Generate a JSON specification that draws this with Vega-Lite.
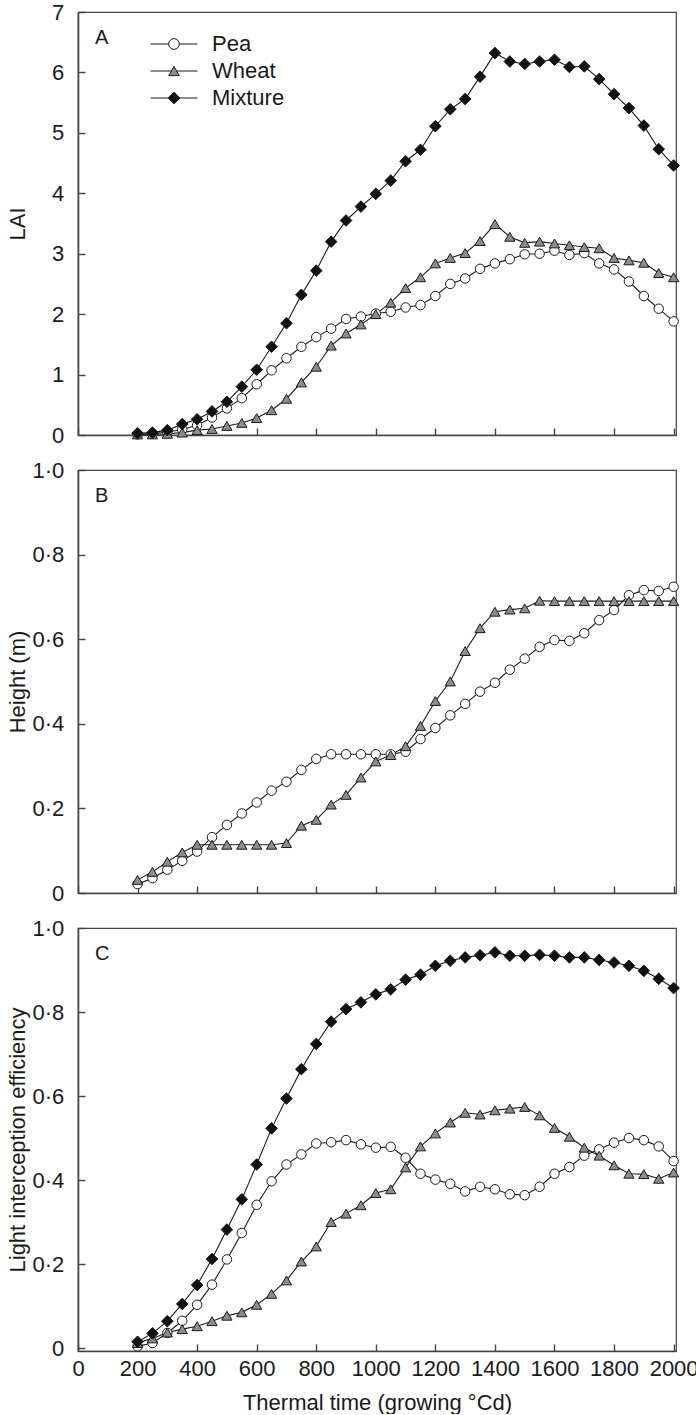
{
"$schema": "https://vega.github.io/schema/vega-lite/v6.json",
"padding": {"left": 5, "top": 0, "right": 0, "bottom": 0},
"background": "white",
"spacing": 11,
"datasets": {
"A": [
{"series":"Pea","time":200,"value":0.01},{"series":"Pea","time":250,"value":0.02},{"series":"Pea","time":300,"value":0.05},{"series":"Pea","time":350,"value":0.09},{"series":"Pea","time":400,"value":0.16},{"series":"Pea","time":450,"value":0.29},{"series":"Pea","time":500,"value":0.44},{"series":"Pea","time":550,"value":0.61},{"series":"Pea","time":600,"value":0.84},{"series":"Pea","time":650,"value":1.07},{"series":"Pea","time":700,"value":1.27},{"series":"Pea","time":750,"value":1.46},{"series":"Pea","time":800,"value":1.62},{"series":"Pea","time":850,"value":1.76},{"series":"Pea","time":900,"value":1.92},{"series":"Pea","time":950,"value":1.96},{"series":"Pea","time":1000,"value":2.01},{"series":"Pea","time":1050,"value":2.04},{"series":"Pea","time":1100,"value":2.11},{"series":"Pea","time":1150,"value":2.15},{"series":"Pea","time":1200,"value":2.30},{"series":"Pea","time":1250,"value":2.50},{"series":"Pea","time":1300,"value":2.59},{"series":"Pea","time":1350,"value":2.75},{"series":"Pea","time":1400,"value":2.84},{"series":"Pea","time":1450,"value":2.91},{"series":"Pea","time":1500,"value":2.99},{"series":"Pea","time":1550,"value":3.00},{"series":"Pea","time":1600,"value":3.05},{"series":"Pea","time":1650,"value":2.98},{"series":"Pea","time":1700,"value":3.01},{"series":"Pea","time":1750,"value":2.84},{"series":"Pea","time":1800,"value":2.74},{"series":"Pea","time":1850,"value":2.54},{"series":"Pea","time":1900,"value":2.30},{"series":"Pea","time":1950,"value":2.09},{"series":"Pea","time":2000,"value":1.88},
{"series":"Wheat","time":200,"value":0.01},{"series":"Wheat","time":250,"value":0.01},{"series":"Wheat","time":300,"value":0.02},{"series":"Wheat","time":350,"value":0.04},{"series":"Wheat","time":400,"value":0.08},{"series":"Wheat","time":450,"value":0.10},{"series":"Wheat","time":500,"value":0.15},{"series":"Wheat","time":550,"value":0.20},{"series":"Wheat","time":600,"value":0.28},{"series":"Wheat","time":650,"value":0.41},{"series":"Wheat","time":700,"value":0.60},{"series":"Wheat","time":750,"value":0.87},{"series":"Wheat","time":800,"value":1.13},{"series":"Wheat","time":850,"value":1.48},{"series":"Wheat","time":900,"value":1.68},{"series":"Wheat","time":950,"value":1.83},{"series":"Wheat","time":1000,"value":2.00},{"series":"Wheat","time":1050,"value":2.19},{"series":"Wheat","time":1100,"value":2.43},{"series":"Wheat","time":1150,"value":2.61},{"series":"Wheat","time":1200,"value":2.84},{"series":"Wheat","time":1250,"value":2.93},{"series":"Wheat","time":1300,"value":3.01},{"series":"Wheat","time":1350,"value":3.21},{"series":"Wheat","time":1400,"value":3.49},{"series":"Wheat","time":1450,"value":3.28},{"series":"Wheat","time":1500,"value":3.18},{"series":"Wheat","time":1550,"value":3.20},{"series":"Wheat","time":1600,"value":3.17},{"series":"Wheat","time":1650,"value":3.14},{"series":"Wheat","time":1700,"value":3.11},{"series":"Wheat","time":1750,"value":3.09},{"series":"Wheat","time":1800,"value":2.93},{"series":"Wheat","time":1850,"value":2.89},{"series":"Wheat","time":1900,"value":2.85},{"series":"Wheat","time":1950,"value":2.68},{"series":"Wheat","time":2000,"value":2.61},
{"series":"Mixture","time":200,"value":0.03},{"series":"Mixture","time":250,"value":0.04},{"series":"Mixture","time":300,"value":0.08},{"series":"Mixture","time":350,"value":0.18},{"series":"Mixture","time":400,"value":0.26},{"series":"Mixture","time":450,"value":0.39},{"series":"Mixture","time":500,"value":0.55},{"series":"Mixture","time":550,"value":0.80},{"series":"Mixture","time":600,"value":1.08},{"series":"Mixture","time":650,"value":1.46},{"series":"Mixture","time":700,"value":1.85},{"series":"Mixture","time":750,"value":2.32},{"series":"Mixture","time":800,"value":2.72},{"series":"Mixture","time":850,"value":3.20},{"series":"Mixture","time":900,"value":3.55},{"series":"Mixture","time":950,"value":3.78},{"series":"Mixture","time":1000,"value":3.99},{"series":"Mixture","time":1050,"value":4.21},{"series":"Mixture","time":1100,"value":4.53},{"series":"Mixture","time":1150,"value":4.72},{"series":"Mixture","time":1200,"value":5.11},{"series":"Mixture","time":1250,"value":5.39},{"series":"Mixture","time":1300,"value":5.56},{"series":"Mixture","time":1350,"value":5.93},{"series":"Mixture","time":1400,"value":6.32},{"series":"Mixture","time":1450,"value":6.18},{"series":"Mixture","time":1500,"value":6.14},{"series":"Mixture","time":1550,"value":6.18},{"series":"Mixture","time":1600,"value":6.21},{"series":"Mixture","time":1650,"value":6.09},{"series":"Mixture","time":1700,"value":6.10},{"series":"Mixture","time":1750,"value":5.89},{"series":"Mixture","time":1800,"value":5.64},{"series":"Mixture","time":1850,"value":5.41},{"series":"Mixture","time":1900,"value":5.12},{"series":"Mixture","time":1950,"value":4.73},{"series":"Mixture","time":2000,"value":4.46}
],
"B": [
{"series":"Pea","time":200,"value":0.021},{"series":"Pea","time":250,"value":0.035},{"series":"Pea","time":300,"value":0.055},{"series":"Pea","time":350,"value":0.076},{"series":"Pea","time":400,"value":0.098},{"series":"Pea","time":450,"value":0.132},{"series":"Pea","time":500,"value":0.161},{"series":"Pea","time":550,"value":0.188},{"series":"Pea","time":600,"value":0.214},{"series":"Pea","time":650,"value":0.242},{"series":"Pea","time":700,"value":0.263},{"series":"Pea","time":750,"value":0.291},{"series":"Pea","time":800,"value":0.317},{"series":"Pea","time":850,"value":0.328},{"series":"Pea","time":900,"value":0.328},{"series":"Pea","time":950,"value":0.328},{"series":"Pea","time":1000,"value":0.328},{"series":"Pea","time":1050,"value":0.328},{"series":"Pea","time":1100,"value":0.334},{"series":"Pea","time":1150,"value":0.364},{"series":"Pea","time":1200,"value":0.390},{"series":"Pea","time":1250,"value":0.420},{"series":"Pea","time":1300,"value":0.447},{"series":"Pea","time":1350,"value":0.476},{"series":"Pea","time":1400,"value":0.497},{"series":"Pea","time":1450,"value":0.528},{"series":"Pea","time":1500,"value":0.554},{"series":"Pea","time":1550,"value":0.582},{"series":"Pea","time":1600,"value":0.598},{"series":"Pea","time":1650,"value":0.596},{"series":"Pea","time":1700,"value":0.614},{"series":"Pea","time":1750,"value":0.645},{"series":"Pea","time":1800,"value":0.669},{"series":"Pea","time":1850,"value":0.704},{"series":"Pea","time":1900,"value":0.716},{"series":"Pea","time":1950,"value":0.714},{"series":"Pea","time":2000,"value":0.724},
{"series":"Wheat","time":200,"value":0.031},{"series":"Wheat","time":250,"value":0.050},{"series":"Wheat","time":300,"value":0.074},{"series":"Wheat","time":350,"value":0.096},{"series":"Wheat","time":400,"value":0.114},{"series":"Wheat","time":450,"value":0.114},{"series":"Wheat","time":500,"value":0.114},{"series":"Wheat","time":550,"value":0.114},{"series":"Wheat","time":600,"value":0.114},{"series":"Wheat","time":650,"value":0.114},{"series":"Wheat","time":700,"value":0.118},{"series":"Wheat","time":750,"value":0.159},{"series":"Wheat","time":800,"value":0.173},{"series":"Wheat","time":850,"value":0.209},{"series":"Wheat","time":900,"value":0.232},{"series":"Wheat","time":950,"value":0.273},{"series":"Wheat","time":1000,"value":0.311},{"series":"Wheat","time":1050,"value":0.326},{"series":"Wheat","time":1100,"value":0.347},{"series":"Wheat","time":1150,"value":0.395},{"series":"Wheat","time":1200,"value":0.454},{"series":"Wheat","time":1250,"value":0.500},{"series":"Wheat","time":1300,"value":0.572},{"series":"Wheat","time":1350,"value":0.626},{"series":"Wheat","time":1400,"value":0.665},{"series":"Wheat","time":1450,"value":0.670},{"series":"Wheat","time":1500,"value":0.673},{"series":"Wheat","time":1550,"value":0.691},{"series":"Wheat","time":1600,"value":0.690},{"series":"Wheat","time":1650,"value":0.690},{"series":"Wheat","time":1700,"value":0.690},{"series":"Wheat","time":1750,"value":0.690},{"series":"Wheat","time":1800,"value":0.690},{"series":"Wheat","time":1850,"value":0.690},{"series":"Wheat","time":1900,"value":0.690},{"series":"Wheat","time":1950,"value":0.690},{"series":"Wheat","time":2000,"value":0.690}
],
"C": [
{"series":"Pea","time":200,"value":0.004},{"series":"Pea","time":250,"value":0.012},{"series":"Pea","time":300,"value":0.036},{"series":"Pea","time":350,"value":0.065},{"series":"Pea","time":400,"value":0.103},{"series":"Pea","time":450,"value":0.151},{"series":"Pea","time":500,"value":0.211},{"series":"Pea","time":550,"value":0.274},{"series":"Pea","time":600,"value":0.341},{"series":"Pea","time":650,"value":0.397},{"series":"Pea","time":700,"value":0.437},{"series":"Pea","time":750,"value":0.461},{"series":"Pea","time":800,"value":0.487},{"series":"Pea","time":850,"value":0.490},{"series":"Pea","time":900,"value":0.495},{"series":"Pea","time":950,"value":0.485},{"series":"Pea","time":1000,"value":0.477},{"series":"Pea","time":1050,"value":0.479},{"series":"Pea","time":1100,"value":0.453},{"series":"Pea","time":1150,"value":0.415},{"series":"Pea","time":1200,"value":0.401},{"series":"Pea","time":1250,"value":0.391},{"series":"Pea","time":1300,"value":0.373},{"series":"Pea","time":1350,"value":0.384},{"series":"Pea","time":1400,"value":0.378},{"series":"Pea","time":1450,"value":0.366},{"series":"Pea","time":1500,"value":0.364},{"series":"Pea","time":1550,"value":0.384},{"series":"Pea","time":1600,"value":0.415},{"series":"Pea","time":1650,"value":0.431},{"series":"Pea","time":1700,"value":0.458},{"series":"Pea","time":1750,"value":0.473},{"series":"Pea","time":1800,"value":0.489},{"series":"Pea","time":1850,"value":0.500},{"series":"Pea","time":1900,"value":0.495},{"series":"Pea","time":1950,"value":0.480},{"series":"Pea","time":2000,"value":0.445},
{"series":"Wheat","time":200,"value":0.012},{"series":"Wheat","time":250,"value":0.023},{"series":"Wheat","time":300,"value":0.037},{"series":"Wheat","time":350,"value":0.045},{"series":"Wheat","time":400,"value":0.052},{"series":"Wheat","time":450,"value":0.064},{"series":"Wheat","time":500,"value":0.077},{"series":"Wheat","time":550,"value":0.085},{"series":"Wheat","time":600,"value":0.103},{"series":"Wheat","time":650,"value":0.129},{"series":"Wheat","time":700,"value":0.161},{"series":"Wheat","time":750,"value":0.206},{"series":"Wheat","time":800,"value":0.242},{"series":"Wheat","time":850,"value":0.300},{"series":"Wheat","time":900,"value":0.320},{"series":"Wheat","time":950,"value":0.340},{"series":"Wheat","time":1000,"value":0.369},{"series":"Wheat","time":1050,"value":0.378},{"series":"Wheat","time":1100,"value":0.430},{"series":"Wheat","time":1150,"value":0.480},{"series":"Wheat","time":1200,"value":0.511},{"series":"Wheat","time":1250,"value":0.537},{"series":"Wheat","time":1300,"value":0.560},{"series":"Wheat","time":1350,"value":0.556},{"series":"Wheat","time":1400,"value":0.566},{"series":"Wheat","time":1450,"value":0.570},{"series":"Wheat","time":1500,"value":0.574},{"series":"Wheat","time":1550,"value":0.554},{"series":"Wheat","time":1600,"value":0.524},{"series":"Wheat","time":1650,"value":0.503},{"series":"Wheat","time":1700,"value":0.477},{"series":"Wheat","time":1750,"value":0.458},{"series":"Wheat","time":1800,"value":0.435},{"series":"Wheat","time":1850,"value":0.415},{"series":"Wheat","time":1900,"value":0.414},{"series":"Wheat","time":1950,"value":0.403},{"series":"Wheat","time":2000,"value":0.418},
{"series":"Mixture","time":200,"value":0.015},{"series":"Mixture","time":250,"value":0.035},{"series":"Mixture","time":300,"value":0.064},{"series":"Mixture","time":350,"value":0.105},{"series":"Mixture","time":400,"value":0.150},{"series":"Mixture","time":450,"value":0.212},{"series":"Mixture","time":500,"value":0.282},{"series":"Mixture","time":550,"value":0.354},{"series":"Mixture","time":600,"value":0.437},{"series":"Mixture","time":650,"value":0.523},{"series":"Mixture","time":700,"value":0.594},{"series":"Mixture","time":750,"value":0.664},{"series":"Mixture","time":800,"value":0.724},{"series":"Mixture","time":850,"value":0.777},{"series":"Mixture","time":900,"value":0.807},{"series":"Mixture","time":950,"value":0.823},{"series":"Mixture","time":1000,"value":0.842},{"series":"Mixture","time":1050,"value":0.854},{"series":"Mixture","time":1100,"value":0.877},{"series":"Mixture","time":1150,"value":0.889},{"series":"Mixture","time":1200,"value":0.910},{"series":"Mixture","time":1250,"value":0.922},{"series":"Mixture","time":1300,"value":0.930},{"series":"Mixture","time":1350,"value":0.935},{"series":"Mixture","time":1400,"value":0.942},{"series":"Mixture","time":1450,"value":0.934},{"series":"Mixture","time":1500,"value":0.934},{"series":"Mixture","time":1550,"value":0.936},{"series":"Mixture","time":1600,"value":0.934},{"series":"Mixture","time":1650,"value":0.930},{"series":"Mixture","time":1700,"value":0.930},{"series":"Mixture","time":1750,"value":0.924},{"series":"Mixture","time":1800,"value":0.918},{"series":"Mixture","time":1850,"value":0.910},{"series":"Mixture","time":1900,"value":0.898},{"series":"Mixture","time":1950,"value":0.879},{"series":"Mixture","time":2000,"value":0.857}
]
},
"vconcat": [
{
"width": 598, "height": 423,
"data": {"name": "A"},
"title": {"text": "A", "anchor": "start", "frame": "group", "orient": "top", "offset": -63, "baseline": "alphabetic", "dx": 17},
"layer": [
{"mark": {"type": "point", "filled": true, "stroke": "#1a1a1a", "strokeWidth": 1, "opacity": 0, "size": 114},
 "encoding": {
  "x": {"field": "time", "type": "quantitative", "scale": {"domain": [0, 2008], "nice": false}, "axis": {"values": [0,200,400,600,800,1000,1200,1400,1600,1800,2000], "labels": false, "title": null}},
  "y": {"field": "value", "type": "quantitative", "scale": {"domain": [0, 7], "nice": false}, "axis": {"values": [0,1,2,3,4,5,6,7], "format": "d", "title": "LAI"}},
  "shape": {"field": "series", "type": "nominal", "scale": {"domain": ["Pea","Wheat","Mixture"], "range": ["M-4.4,0H-1M1,0H4.4M-1,0A1,1 0 1,1 1,0A1,1 0 1,1 -1,0Z", "M-4.4,0H-0.5M0.5,0H4.4M0,-0.87L1,0.87L-1,0.87Z", "M-4.4,0H-1.1M1.1,0H4.4M-1.1,0L0,-1.1L1.1,0L0,1.1Z"]},
   "legend": {"orient": "none", "legendX": 85, "legendY": 21, "title": null, "symbolSize": 114, "symbolOpacity": 1, "symbolStrokeWidth": 1, "labelOffset": 27, "rowPadding": 5}},
  "fill": {"field": "series", "type": "nominal", "scale": {"domain": ["Pea","Wheat","Mixture"], "range": ["#ffffff","#8c8c8c","#111111"]},
   "legend": {"orient": "none", "legendX": 85, "legendY": 21, "title": null, "symbolSize": 114, "symbolOpacity": 1, "symbolStrokeWidth": 1, "labelOffset": 27, "rowPadding": 5}}}},
{"mark": {"type": "line", "color": "#1a1a1a", "strokeWidth": 1.1},
 "encoding": {
  "x": {"field": "time", "type": "quantitative"},
  "y": {"field": "value", "type": "quantitative"},
  "detail": {"field": "series"}}},
{"mark": {"type": "point", "filled": true, "stroke": "#1a1a1a", "strokeWidth": 1, "opacity": 1},
 "encoding": {
  "x": {"field": "time", "type": "quantitative"},
  "y": {"field": "value", "type": "quantitative"},
  "shape": {"field": "series", "type": "nominal", "scale": {"domain": ["Pea","Wheat","Mixture"], "range": ["circle","triangle-up","diamond"]}, "legend": null},
  "fill": {"field": "series", "type": "nominal", "scale": {"domain": ["Pea","Wheat","Mixture"], "range": ["#ffffff","#8c8c8c","#111111"]}, "legend": null},
  "size": {"field": "series", "type": "nominal", "scale": {"type": "ordinal", "domain": ["Pea","Wheat","Mixture"], "range": [90,105,135]}, "legend": null}}}
],
"resolve": {"scale": {"shape": "independent", "fill": "independent"}, "legend": {"shape": "independent", "fill": "independent"}}
},
{
"width": 598, "height": 423,
"data": {"name": "B"},
"title": {"text": "B", "anchor": "start", "frame": "group", "orient": "top", "offset": -63, "baseline": "alphabetic", "dx": 17},
"layer": [
{"mark": {"type": "line", "color": "#1a1a1a", "strokeWidth": 1.1},
 "encoding": {
  "x": {"field": "time", "type": "quantitative", "scale": {"domain": [0, 2008], "nice": false}, "axis": {"values": [0,200,400,600,800,1000,1200,1400,1600,1800,2000], "labels": false, "title": null}},
  "y": {"field": "value", "type": "quantitative", "scale": {"domain": [0, 1], "nice": false}, "axis": {"values": [0,0.2,0.4,0.6,0.8,1], "title": "Height (m)", "labelExpr": "datum.value == 0 ? '0' : replace(format(datum.value, '.1f'), '.', '·')"}},
  "detail": {"field": "series"}}},
{"mark": {"type": "point", "filled": true, "stroke": "#1a1a1a", "strokeWidth": 1, "opacity": 1},
 "encoding": {
  "x": {"field": "time", "type": "quantitative"},
  "y": {"field": "value", "type": "quantitative"},
  "shape": {"field": "series", "type": "nominal", "scale": {"domain": ["Pea","Wheat","Mixture"], "range": ["circle","triangle-up","diamond"]}, "legend": null},
  "fill": {"field": "series", "type": "nominal", "scale": {"domain": ["Pea","Wheat","Mixture"], "range": ["#ffffff","#8c8c8c","#111111"]}, "legend": null},
  "size": {"field": "series", "type": "nominal", "scale": {"type": "ordinal", "domain": ["Pea","Wheat","Mixture"], "range": [90,105,135]}, "legend": null}}}
]
},
{
"width": 598, "height": 423,
"data": {"name": "C"},
"title": {"text": "C", "anchor": "start", "frame": "group", "orient": "top", "offset": -63, "baseline": "alphabetic", "dx": 17},
"layer": [
{"mark": {"type": "line", "color": "#1a1a1a", "strokeWidth": 1.1},
 "encoding": {
  "x": {"field": "time", "type": "quantitative", "scale": {"domain": [0, 2008], "nice": false}, "axis": {"values": [0,200,400,600,800,1000,1200,1400,1600,1800,2000], "format": "d", "title": "Thermal time (growing °Cd)", "titleY": 58, "titleBaseline": "alphabetic", "labelPadding": 14.6}},
  "y": {"field": "value", "type": "quantitative", "scale": {"domain": [-0.007, 1], "nice": false}, "axis": {"values": [0,0.2,0.4,0.6,0.8,1], "title": "Light interception efficiency", "labelExpr": "datum.value == 0 ? '0' : replace(format(datum.value, '.1f'), '.', '·')"}},
  "detail": {"field": "series"}}},
{"mark": {"type": "point", "filled": true, "stroke": "#1a1a1a", "strokeWidth": 1, "opacity": 1},
 "encoding": {
  "x": {"field": "time", "type": "quantitative"},
  "y": {"field": "value", "type": "quantitative"},
  "shape": {"field": "series", "type": "nominal", "scale": {"domain": ["Pea","Wheat","Mixture"], "range": ["circle","triangle-up","diamond"]}, "legend": null},
  "fill": {"field": "series", "type": "nominal", "scale": {"domain": ["Pea","Wheat","Mixture"], "range": ["#ffffff","#8c8c8c","#111111"]}, "legend": null},
  "size": {"field": "series", "type": "nominal", "scale": {"type": "ordinal", "domain": ["Pea","Wheat","Mixture"], "range": [90,105,135]}, "legend": null}}}
]
}
],
"resolve": {"scale": {"shape": "independent", "fill": "independent", "size": "independent", "x": "independent", "y": "independent"}, "legend": {"shape": "independent", "fill": "independent", "size": "independent"}},
"config": {
 "font": "Liberation Sans",
 "view": {"stroke": "#444444", "strokeWidth": 1.2},
 "axis": {"domainColor": "#444444", "domainWidth": 1.6, "tickColor": "#444444", "tickWidth": 1.4, "tickSize": -7, "grid": false, "labelFont": "Liberation Sans", "labelFontSize": 22, "labelColor": "#1a1a1a", "labelFlush": false, "labelOverlap": false, "titleFont": "Liberation Sans", "titleFontSize": 22, "titleFontWeight": "normal", "titleColor": "#1a1a1a"},
 "axisY": {"labelPadding": 21.3, "titleX": -54, "titleBaseline": "alphabetic"},
 "axisX": {"labelPadding": 14.6},
 "legend": {"labelFont": "Liberation Sans", "labelFontSize": 22, "labelColor": "#1a1a1a"},
 "title": {"font": "Liberation Sans", "fontSize": 20, "fontWeight": "normal", "color": "#1a1a1a"}
}
}
